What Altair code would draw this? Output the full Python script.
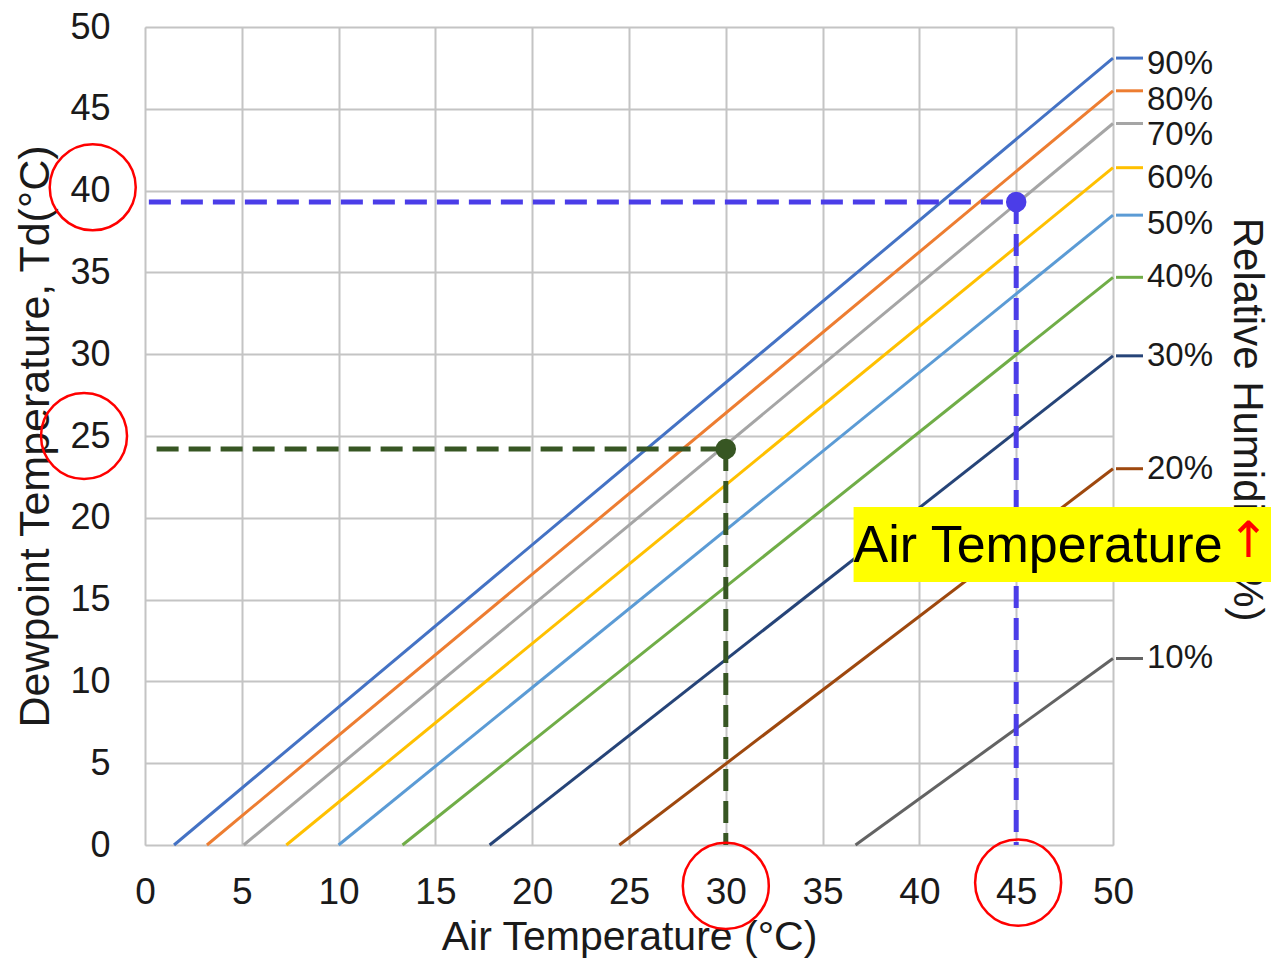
import altair as alt
import pandas as pd

# ---- data ----
rh_labels = ["90%", "80%", "70%", "60%", "50%", "40%", "30%", "20%", "10%"]
start_x = [1.5, 3.2, 5.1, 7.3, 10.0, 13.3, 17.8, 24.5, 36.7]   # air temp where dewpoint = 0
end_y = [48.1, 46.1, 44.1, 41.4, 38.5, 34.7, 29.9, 23.0, 11.4]  # dewpoint at air temp = 50
colors = ["#4472C4", "#ED7D31", "#A5A5A5", "#FFC000", "#5B9BD5",
          "#70AD47", "#264478", "#9E480E", "#636363"]
x_ticks = [0, 5, 10, 15, 20, 25, 30, 35, 40, 45, 50]
y_ticks = [0, 5, 10, 15, 20, 25, 30, 35, 40, 45, 50]

# label nudges (pixels) so the right-hand labels do not collide
label_dy = [6, 9, 11, 10, 9, 0, 0, 0, 0]

blue_pt = {"x": 45.0, "y": 39.3, "x0": 0.2}
green_pt = {"x": 30.0, "y": 24.2, "x0": 0.6}

circle_x = [-2.7, -3.15, 30.0, 45.1]
circle_y = [40.2, 25.0, -2.5, -2.3]

FONT = "Liberation Sans"
TXT = "#1a1a1a"

rows = []
for lab, sx, ey in zip(rh_labels, start_x, end_y):
    rows.append({"rh": lab, "x": sx, "y": 0.0})
    rows.append({"rh": lab, "x": 50.0, "y": ey})
lines_df = pd.DataFrame(rows)
ends_df = pd.DataFrame({"rh": rh_labels, "x": [50.0] * len(rh_labels), "y": end_y})

xscale = alt.Scale(domain=[0, 50], nice=False)
yscale = alt.Scale(domain=[0, 50], nice=False)
cscale = alt.Scale(domain=rh_labels, range=colors)

x_axis = alt.Axis(values=x_ticks, title="Air Temperature (°C)", labelFontSize=37,
                  titleFontSize=41, tickSize=0, ticks=False, labelPadding=29,
                  titlePadding=7, domain=False, gridColor="#c4c4c4", gridWidth=2,
                  labelColor=TXT, titleColor=TXT, labelFont=FONT, titleFont=FONT,
                  titleFontWeight="normal", labelFlush=False)
y_axis = alt.Axis(values=y_ticks, title="Dewpoint Temperature, Td(°C)", labelFontSize=36,
                  titleFontSize=43, tickSize=0, ticks=False, labelPadding=35,
                  titlePadding=12, domain=False, gridColor="#c4c4c4", gridWidth=2,
                  labelColor=TXT, titleColor=TXT, labelFont=FONT, titleFont=FONT,
                  titleFontWeight="normal", labelFlush=False)

lines = alt.Chart(lines_df).mark_line(strokeWidth=3).encode(
    x=alt.X("x:Q", scale=xscale, axis=x_axis),
    y=alt.Y("y:Q", scale=yscale, axis=y_axis),
    color=alt.Color("rh:N", scale=cscale, legend=None),
    detail="rh:N",
)

dashes = alt.Chart(ends_df).mark_rule(strokeWidth=3, xOffset=3, x2Offset=30).encode(
    x=alt.X("x:Q", scale=xscale),
    x2="x:Q",
    y=alt.Y("y:Q", scale=yscale),
    color=alt.Color("rh:N", scale=cscale, legend=None),
)

label_layers = []
for lab, ey, d in zip(rh_labels, end_y, label_dy):
    label_layers.append(
        alt.Chart(pd.DataFrame({"x": [50.0], "y": [ey], "t": [lab]})).mark_text(
            align="left", baseline="middle", dx=34, dy=d, fontSize=33, font=FONT, color=TXT
        ).encode(x=alt.X("x:Q", scale=xscale), y=alt.Y("y:Q", scale=yscale), text="t:N")
    )

right_title = alt.Chart(pd.DataFrame({"x": [56.9], "y": [26.0],
                                      "t": ["Relative Humidity (%)"]})).mark_text(
    angle=90, align="center", baseline="middle", fontSize=42, font=FONT, color=TXT
).encode(x=alt.X("x:Q", scale=xscale), y=alt.Y("y:Q", scale=yscale), text="t:N")

def guide(pt, color):
    h = alt.Chart(pd.DataFrame({"x": [pt["x0"]], "x2": [pt["x"]], "y": [pt["y"]]})).mark_rule(
        color=color, strokeWidth=5, strokeDash=[22, 10]).encode(
        x=alt.X("x:Q", scale=xscale), x2="x2:Q", y=alt.Y("y:Q", scale=yscale))
    v = alt.Chart(pd.DataFrame({"x": [pt["x"]], "y": [pt["y"]], "y2": [0.0]})).mark_rule(
        color=color, strokeWidth=5, strokeDash=[22, 10]).encode(
        x=alt.X("x:Q", scale=xscale), y=alt.Y("y:Q", scale=yscale), y2="y2:Q")
    d = alt.Chart(pd.DataFrame({"x": [pt["x"]], "y": [pt["y"]]})).mark_point(
        filled=True, size=420, color=color, opacity=1).encode(
        x=alt.X("x:Q", scale=xscale), y=alt.Y("y:Q", scale=yscale))
    return h + v + d

blue = guide(blue_pt, "#4B3DE8")
green = guide(green_pt, "#375623")

circles = alt.Chart(pd.DataFrame({"x": circle_x, "y": circle_y})).mark_point(
    shape="circle", filled=False, size=7400, color="#FF0000", strokeWidth=2.5, opacity=1
).encode(x=alt.X("x:Q", scale=xscale), y=alt.Y("y:Q", scale=yscale))

box = alt.Chart(pd.DataFrame({"x": [36.6], "x2": [58.8], "y": [20.66], "y2": [16.08]})).mark_rect(
    color="#FFFF00").encode(x=alt.X("x:Q", scale=xscale), x2="x2:Q",
                            y=alt.Y("y:Q", scale=yscale), y2="y2:Q")
box_text = alt.Chart(pd.DataFrame({"x": [36.6], "y": [18.3], "t": ["Air Temperature"]})).mark_text(
    align="left", baseline="middle", fontSize=52, font=FONT, color="#000000"
).encode(x=alt.X("x:Q", scale=xscale), y=alt.Y("y:Q", scale=yscale), text="t:N")
arrow = alt.Chart(pd.DataFrame({"x": [57.0], "y": [18.5], "t": ["↑"]})).mark_text(
    align="center", baseline="middle", fontSize=50, font="DejaVu Sans", color="#FF0000"
).encode(x=alt.X("x:Q", scale=xscale), y=alt.Y("y:Q", scale=yscale), text="t:N")

chart = alt.layer(
    lines, dashes, *label_layers, right_title, green, blue, circles, box, box_text, arrow
).properties(
    width=968, height=818,
    autosize=alt.AutoSizeParams(type="none"),
    padding={"left": 137, "top": 19, "right": 158, "bottom": 118},
).configure_view(stroke="#000000", strokeWidth=2).configure(background="white")

chart.save("out.html", embed_options={"renderer": "svg", "actions": False})
